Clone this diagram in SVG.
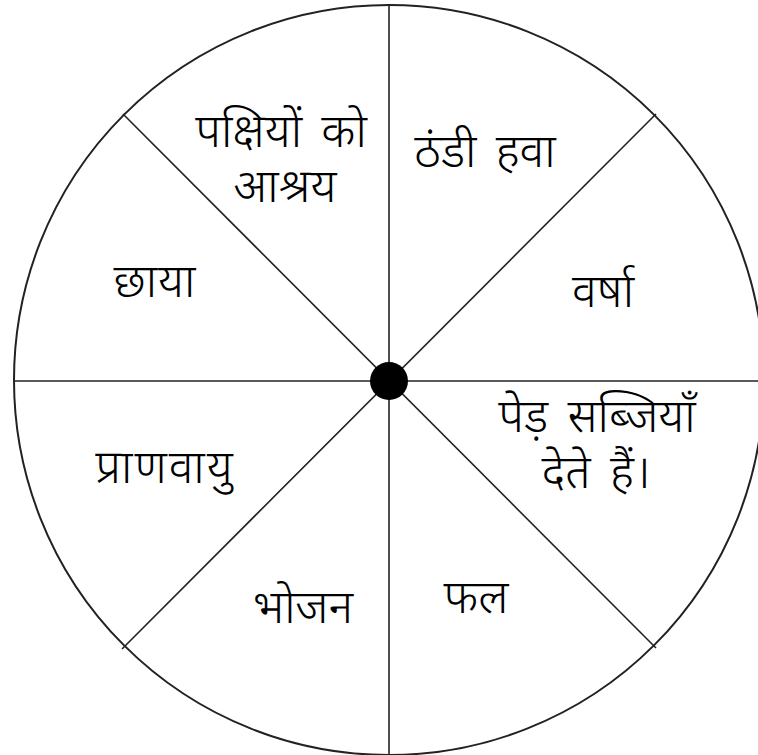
<svg xmlns="http://www.w3.org/2000/svg" width="758" height="755" viewBox="0 0 758 755">
<style>
.ln{stroke:#222;stroke-width:1.6;fill:none}
.t{font-family:"Noto Sans Devanagari","Noto Sans","Lohit Devanagari",sans-serif;font-size:47px;font-weight:300;fill:#000;text-anchor:middle;word-spacing:7px}
</style>
<rect width="758" height="755" fill="#fff"/>
<g id="connectors">
<circle class="ln" cx="389" cy="380" r="375" style="stroke-width:2"/>
<line class="ln" x1="389" y1="5" x2="389" y2="755"/>
<line class="ln" x1="14" y1="381" x2="758" y2="381"/>
<line class="ln" x1="123" y1="114" x2="656" y2="648"/>
<line class="ln" x1="656" y1="114" x2="122" y2="649"/>
</g>
<g id="hub"><circle cx="389" cy="381" r="19" fill="#000"/></g>
<g id="n1"><text class="t" x="281" y="147">पक्षियों को</text><text class="t" x="285" y="202">आश्रय</text></g>
<g id="n2"><text class="t" x="485" y="167">ठंडी हवा</text></g>
<g id="n3"><text class="t" x="603" y="307">वर्षा</text></g>
<g id="n4"><text class="t" x="597" y="432">पेड़ सब्जियाँ</text><text class="t" x="596" y="488">देते हैं।</text></g>
<g id="n5"><text class="t" x="476" y="613">फल</text></g>
<g id="n6"><text class="t" x="303" y="623">भोजन</text></g>
<g id="n7"><text class="t" x="165" y="483" letter-spacing="2">प्राणवायु</text></g>
<g id="n8"><text class="t" x="155" y="297" letter-spacing="1">छाया</text></g>
</svg>
